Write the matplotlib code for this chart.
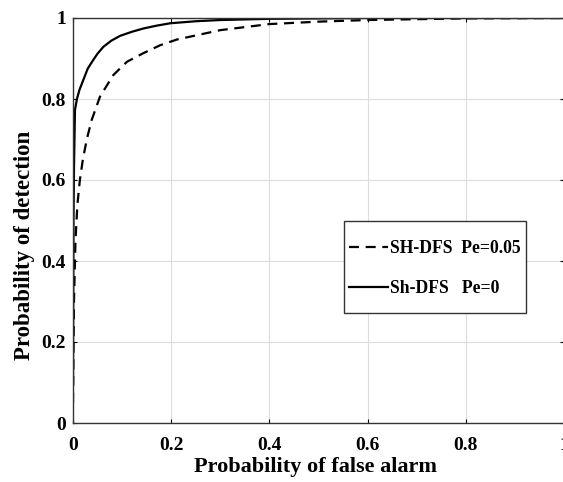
import matplotlib
matplotlib.use('Agg')
import matplotlib.pyplot as plt
from matplotlib.patches import Rectangle

# ROC curves
pfa_pe0 = [0, 0.001, 0.002, 0.004, 0.008, 0.013, 0.021, 0.03, 0.041, 0.05, 0.062,
           0.078, 0.096, 0.12, 0.143, 0.17, 0.198, 0.25, 0.3, 0.4, 0.5, 0.6, 0.8, 1.0]
pd_pe0 = [0.1, 0.5, 0.63, 0.773, 0.8, 0.822, 0.847, 0.875, 0.896, 0.912, 0.929,
          0.944, 0.956, 0.966, 0.974, 0.981, 0.987, 0.992, 0.995, 0.998, 0.999, 1.0, 1.0, 1.0]

pfa_pe005 = [0, 0.002, 0.005, 0.009, 0.014, 0.02, 0.028, 0.038, 0.055, 0.082, 0.11,
             0.143, 0.178, 0.212, 0.3, 0.4, 0.5, 0.6, 0.8, 1.0]
pd_pe005 = [0.05, 0.3, 0.45, 0.54, 0.6, 0.65, 0.70, 0.748, 0.806, 0.859, 0.892,
            0.913, 0.933, 0.947, 0.97, 0.985, 0.991, 0.995, 0.999, 1.0]

ticks = [0, 0.2, 0.4, 0.6, 0.8, 1]
tick_labels = ['0', '0.2', '0.4', '0.6', '0.8', '1']
labels = ['SH-DFS  Pe=0.05', 'Sh-DFS   Pe=0']

plt.rcParams['font.family'] = ['Liberation Serif', 'DejaVu Serif']
plt.rcParams['font.weight'] = 'bold'

fig = plt.figure(figsize=(5.63, 4.82), dpi=100)
ax = fig.add_axes([73 / 563, 59 / 482, 491 / 563, 405 / 482])

ax.plot(pfa_pe005, pd_pe005, color='black', linestyle=(0, (4.5, 3)), linewidth=1.6,
        label=labels[0])
ax.plot(pfa_pe0, pd_pe0, color='black', linestyle='-', linewidth=1.6,
        label=labels[1])

ax.set_xlim(0, 1)
ax.set_ylim(0, 1)
ax.set_xticks(ticks)
ax.set_xticklabels(tick_labels)
ax.set_yticks(ticks)
ax.set_yticklabels(tick_labels)
ax.tick_params(direction='in', length=3, labelsize=14, top=True, right=True, width=0.8)
ax.tick_params(axis='x', pad=10)
ax.tick_params(axis='y', pad=5)
ax.grid(True, color='#dcdcdc', linewidth=0.8)
ax.set_axisbelow(True)
for s in ax.spines.values():
    s.set_linewidth(1.0)
    s.set_color('#333333')

ax.set_xlabel('Probability of false alarm', fontsize=16, fontweight='bold')
ax.xaxis.label.set_va('center')
ax.xaxis.set_label_coords(0.5 - 3 / 491, -44 / 405)
ax.set_ylabel('Probability of detection', fontsize=16.5, fontweight='bold')
ax.yaxis.label.set_rotation_mode('default')
ax.yaxis.label.set_va('center')
ax.yaxis.set_label_coords(-48 / 491, 178 / 405)

# legend box (MATLAB style)
ax.add_patch(Rectangle((271 / 491, 110 / 405), 182 / 491, 92 / 405, transform=ax.transAxes,
                       facecolor='white', edgecolor='#333333', linewidth=1.0, zorder=4))
leg = ax.legend(loc='center left', bbox_to_anchor=(276 / 491, 154.5 / 405),
                frameon=False, fontsize=12.7, handlelength=2.2, handletextpad=0.1,
                labelspacing=1.3, borderpad=0, borderaxespad=0)
leg.set_zorder(5)

fig.savefig('out.png', dpi=100)
